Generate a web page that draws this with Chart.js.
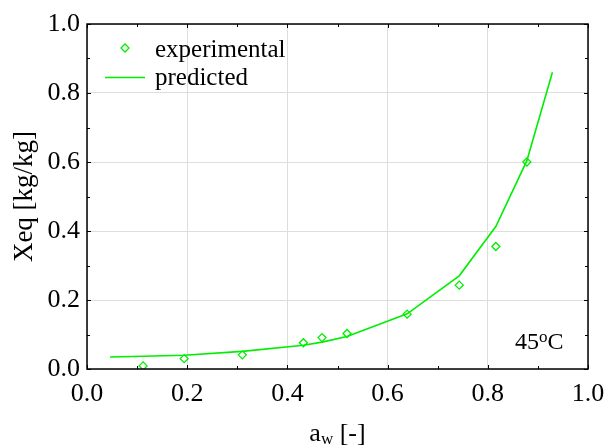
<!DOCTYPE html>
<html>
<head>
<meta charset="utf-8">
<script src="https://cdn.jsdelivr.net/npm/chart.js@4.4.1/dist/chart.umd.min.js"></script>
<style>
html,body{margin:0;padding:0;background:#fff;}
#wrap{width:608px;height:446px;position:relative;}
</style>
</head>
<body>
<div id="wrap"><canvas id="c" width="608" height="446"></canvas></div>
<script>
// ---- data ----
const expAw = [0.112, 0.194, 0.310, 0.432, 0.469, 0.519, 0.639, 0.743, 0.816, 0.878];
const expX  = [0.009, 0.030, 0.041, 0.076, 0.091, 0.103, 0.159, 0.243, 0.355, 0.600];
const predAw = [0.046, 0.112, 0.194, 0.310, 0.432, 0.469, 0.519, 0.639, 0.743, 0.816, 0.878, 0.929];
const predX  = [0.035, 0.037, 0.040, 0.051, 0.069, 0.078, 0.094, 0.160, 0.270, 0.413, 0.604, 0.860];
const majorTicks = [0, 0.2, 0.4, 0.6, 0.8, 1.0];
const minorTicks = [0.1, 0.3, 0.5, 0.7, 0.9];
const seriesNames = ['experimental', 'predicted'];
const xTitleMain = 'a', xTitleSub = 'w', xTitleRest = ' [-]';
const yTitle = 'Xeq [kg/kg]';
const annotation = ['45', 'o', 'C'];

const GREEN = '#00ee00';
const SERIF = '"Liberation Serif", "Times New Roman", serif';

const framePlugin = {
  id: 'frame',
  afterDraw(chart) {
    const ctx = chart.ctx;
    const a = chart.chartArea;
    const xs = chart.scales.x, ys = chart.scales.y;
    ctx.save();
    ctx.strokeStyle = '#000';
    ctx.lineWidth = 1.5;
    ctx.strokeRect(a.left, a.top, a.right - a.left, a.bottom - a.top);
    ctx.lineWidth = 1;
    const drawT = (vals, len) => {
      vals.forEach(v => {
        const px = Math.round(xs.getPixelForValue(v)) + 0.5;
        const py = Math.round(ys.getPixelForValue(v)) + 0.5;
        ctx.beginPath();
        ctx.moveTo(px, a.bottom); ctx.lineTo(px, a.bottom - len);
        ctx.moveTo(px, a.top); ctx.lineTo(px, a.top + len);
        ctx.moveTo(a.left, py); ctx.lineTo(a.left + len, py);
        ctx.moveTo(a.right, py); ctx.lineTo(a.right - len, py);
        ctx.stroke();
      });
    };
    drawT(majorTicks, 4);
    drawT(minorTicks, 3);

    // legend
    ctx.fillStyle = '#000';
    ctx.font = '25px ' + SERIF;
    ctx.textBaseline = 'alphabetic';
    ctx.textAlign = 'left';
    ctx.fillText(seriesNames[0], 155, 57);
    ctx.fillText(seriesNames[1], 155, 85);
    ctx.strokeStyle = GREEN;
    ctx.lineWidth = 1.3;
    ctx.beginPath();
    const cx = 125, cy = 48, r = 4;
    ctx.moveTo(cx - r, cy); ctx.lineTo(cx, cy - r); ctx.lineTo(cx + r, cy); ctx.lineTo(cx, cy + r); ctx.closePath();
    ctx.stroke();
    ctx.lineWidth = 1.6;
    ctx.beginPath();
    ctx.moveTo(105, 77.5); ctx.lineTo(145, 77.5);
    ctx.stroke();

    // annotation 45oC
    ctx.fillStyle = '#000';
    ctx.font = '24px ' + SERIF;
    let x0 = 515;
    ctx.fillText(annotation[0], x0, 349);
    x0 += ctx.measureText(annotation[0]).width;
    ctx.font = '17px ' + SERIF;
    ctx.fillText(annotation[1], x0, 342);
    x0 += ctx.measureText(annotation[1]).width;
    ctx.font = '24px ' + SERIF;
    ctx.fillText(annotation[2], x0, 349);

    // x title
    ctx.font = '26px ' + SERIF;
    const wA = ctx.measureText(xTitleMain).width;
    ctx.font = '17px ' + SERIF;
    const wW = ctx.measureText(xTitleSub).width;
    ctx.font = '26px ' + SERIF;
    const wR = ctx.measureText(xTitleRest).width;
    let tx = (a.left + a.right) / 2 - (wA + wW + wR) / 2;
    ctx.fillText(xTitleMain, tx, 441);
    tx += wA;
    ctx.font = '17px ' + SERIF;
    ctx.fillText(xTitleSub, tx, 444);
    tx += wW;
    ctx.font = '26px ' + SERIF;
    ctx.fillText(xTitleRest, tx, 441);

    // y title
    ctx.save();
    ctx.translate(25, (a.top + a.bottom) / 2);
    ctx.rotate(-Math.PI / 2);
    ctx.textAlign = 'center';
    ctx.textBaseline = 'middle';
    ctx.font = '27px ' + SERIF;
    ctx.fillText(yTitle, 0, 0);
    ctx.restore();

    ctx.restore();
  }
};

const gridColor = ctx => '#dddddd';

new Chart(document.getElementById('c'), {
  type: 'scatter',
  data: {
    datasets: [
      {
        label: seriesNames[0],
        data: expAw.map((v, i) => ({x: v, y: expX[i]})),
        pointStyle: 'rectRot',
        pointRadius: 4,
        pointBorderWidth: 1.3,
        borderColor: GREEN,
        backgroundColor: 'rgba(0,0,0,0)',
        showLine: false,
        order: 1
      },
      {
        label: seriesNames[1],
        data: predAw.map((v, i) => ({x: v, y: predX[i]})),
        showLine: true,
        borderColor: GREEN,
        borderWidth: 1.6,
        pointRadius: 0,
        fill: false,
        tension: 0,
        order: 2
      }
    ]
  },
  options: {
    responsive: false,
    animation: false,
    devicePixelRatio: 1,
    layout: { padding: { top: 24, right: 20, left: 0, bottom: 0 } },
    plugins: { legend: { display: false }, tooltip: { enabled: false } },
    scales: {
      x: {
        type: 'linear', min: 0, max: 1,
        afterFit: s => { s.height = 77; s.paddingLeft = 0; s.paddingRight = 0; },
        ticks: {
          stepSize: 0.2, padding: 10,
          color: '#000',
          font: { family: SERIF, size: 26 },
          callback: v => Number(v).toFixed(1),
          maxRotation: 0, autoSkip: false
        },
        grid: { color: gridColor, drawTicks: false, lineWidth: 1 },
        border: { display: false }
      },
      y: {
        type: 'linear', min: 0, max: 1,
        afterFit: s => { s.width = 87; s.paddingTop = 0; s.paddingBottom = 0; },
        ticks: {
          stepSize: 0.2, padding: 7,
          color: '#000',
          font: { family: SERIF, size: 26 },
          callback: v => Number(v).toFixed(1)
        },
        grid: { color: gridColor, drawTicks: false, lineWidth: 1 },
        border: { display: false }
      }
    }
  },
  plugins: [framePlugin]
});
</script>
</body>
</html>
